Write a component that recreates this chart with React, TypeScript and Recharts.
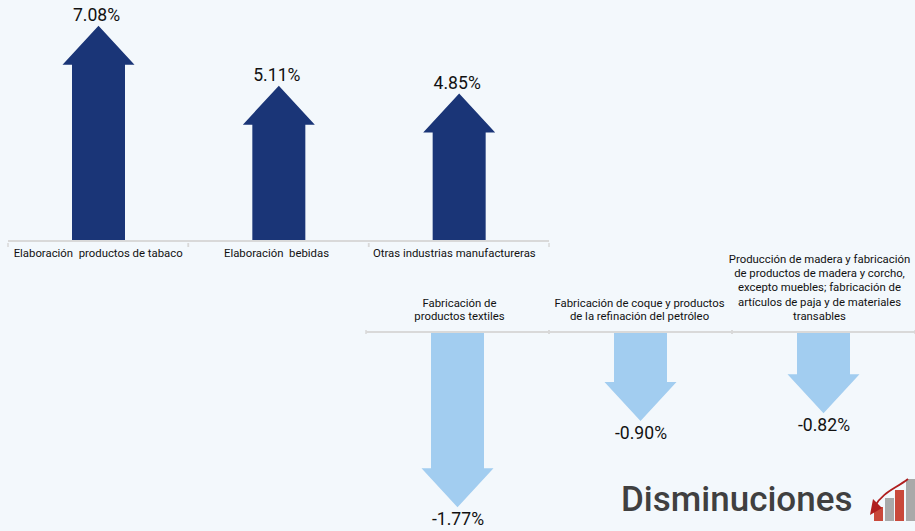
import React from 'react';
import { BarChart, Bar, XAxis, YAxis, LabelList } from 'recharts';

const upCategories = [
  ['Elaboración  productos de tabaco'],
  ['Elaboración  bebidas'],
  ['Otras industrias manufactureras'],
];
const upValues = [7.08, 5.11, 4.85];

const downCategories = [
  ['Fabricación de', 'productos textiles'],
  ['Fabricación de coque y productos', 'de la refinación del petróleo'],
  [
    'Producción de madera y fabricación',
    'de productos de madera y corcho,',
    'excepto muebles; fabricación de',
    'artículos de paja y de materiales',
    'transables',
  ],
];
const downValues = [-1.77, -0.9, -0.82];

const FONT = 'Roboto, sans-serif';
const AXIS_COLOR = '#d9d9d9';
const UP_COLOR = '#1a3577';
const DOWN_COLOR = '#a2cdf0';
const BODY_WIDTH = 53;
const HEAD_EXTRA = 9.5;
const HEAD_HEIGHT = 39;

const upData = upValues.map((value, i) => ({ name: upCategories[i].join(' '), value }));
const downData = downValues.map((value, i) => ({ name: downCategories[i].join(' '), value }));

// bar drawn as an arrow, tip on the value
function Arrow({ x, y, width, height, value, fill }: any) {
  const v = Array.isArray(value) ? value[1] : value;
  const top = Math.min(y, y + height);
  const bottom = Math.max(y, y + height);
  const left = x;
  const right = x + width;
  const mid = x + width / 2;
  const pts =
    v >= 0
      ? [
          [mid, top],
          [right + HEAD_EXTRA, top + HEAD_HEIGHT],
          [right, top + HEAD_HEIGHT],
          [right, bottom],
          [left, bottom],
          [left, top + HEAD_HEIGHT],
          [left - HEAD_EXTRA, top + HEAD_HEIGHT],
        ]
      : [
          [mid, bottom],
          [right + HEAD_EXTRA, bottom - HEAD_HEIGHT],
          [right, bottom - HEAD_HEIGHT],
          [right, top],
          [left, top],
          [left, bottom - HEAD_HEIGHT],
          [left - HEAD_EXTRA, bottom - HEAD_HEIGHT],
        ];
  return <polygon points={pts.map((p) => p.join(',')).join(' ')} fill={fill} />;
}

function ValueLabel({ x, y, width, height, value }: any) {
  const tipUp = value >= 0;
  const tip = tipUp ? Math.min(y, y + height) : Math.max(y, y + height);
  return (
    <text
      x={x + width / 2 + (tipUp ? -2 : 0.5)}
      y={tipUp ? tip - 5 : tip + 18}
      textAnchor="middle"
      fontFamily={FONT}
      fontSize={17.6}
      fill="#111"
    >
      {value.toFixed(2)}%
    </text>
  );
}

function CategoryTick({ x, y, payload, index, lines, band, nudge, above }: any) {
  const rows: string[] = lines[index ?? payload.index] ?? [];
  const step = rows.length > 2 ? 14.3 : 13.5;
  const edge = band / 2;
  return (
    <g>
      <line x1={x - edge} x2={x - edge} y1={y} y2={y + 4} stroke={AXIS_COLOR} strokeWidth={1.5} />
      <line x1={x + edge} x2={x + edge} y1={y} y2={y + 4} stroke={AXIS_COLOR} strokeWidth={1.5} />
      {rows.map((row, i) => (
        <text
          key={i}
          x={x + (nudge[index ?? payload.index] ?? 0)}
          y={above ? y - 10 - (rows.length - 1 - i) * step : y + 14}
          textAnchor="middle"
          fontFamily={FONT}
          fontSize={11.35}
          fill="#111"
          style={{ whiteSpace: 'pre' }}
        >
          {row}
        </text>
      ))}
    </g>
  );
}

function UpChart() {
  return (
    <BarChart width={915} height={270} data={upData} margin={{ top: 10, right: 366, bottom: 0, left: 8 }} barSize={BODY_WIDTH}>
      <XAxis
        dataKey="name"
        interval={0}
        height={29}
        axisLine={{ stroke: AXIS_COLOR, strokeWidth: 2 }}
        tickLine={false}
        tickSize={0}
        tick={<CategoryTick lines={upCategories} band={180.33} nudge={[0, -2, -4.5]} />}
      />
      <YAxis hide domain={[0, 7.6]} />
      <Bar dataKey="value" fill={UP_COLOR} isAnimationActive={false} shape={<Arrow />}>
        <LabelList dataKey="value" content={<ValueLabel />} />
      </Bar>
    </BarChart>
  );
}

function DownChart() {
  return (
    <BarChart width={915} height={291} data={downData} margin={{ top: 0, right: 0, bottom: 1, left: 366 }} barSize={BODY_WIDTH}>
      <XAxis
        dataKey="name"
        orientation="top"
        interval={0}
        height={92}
        axisLine={{ stroke: AXIS_COLOR, strokeWidth: 2 }}
        tickLine={false}
        tickSize={0}
        tick={<CategoryTick lines={downCategories} band={183} nudge={[2, -1, -4]} above />}
      />
      <YAxis hide domain={[-2, 0]} />
      <Bar dataKey="value" fill={DOWN_COLOR} isAnimationActive={false} shape={<Arrow />}>
        <LabelList dataKey="value" content={<ValueLabel />} />
      </Bar>
    </BarChart>
  );
}

export default function App() {
  return (
    <div style={{ position: 'fixed', left: 0, top: 0, width: 915, height: 531, background: '#f3f8fc', overflow: 'hidden' }}>
      <div style={{ position: 'absolute', left: 0, top: 0 }}>
        <UpChart />
      </div>
      <div style={{ position: 'absolute', left: 0, top: 240 }}>
        <DownChart />
      </div>
      <div
        style={{
          position: 'absolute',
          left: 621,
          top: 479,
          fontFamily: FONT,
          fontWeight: 500,
          fontSize: 35,
          lineHeight: '42px',
          color: '#404040',
        }}
      >
        Disminuciones
      </div>
      <svg style={{ position: 'absolute', left: 865, top: 475 }} width={50} height={50}>
        <rect x={9} y={32} width={9} height={14} fill="#c9493b" />
        <rect x={20} y={23} width={9} height={23} fill="#a9a9a9" />
        <rect x={30} y={15} width={9} height={31} fill="#c9493b" />
        <rect x={41} y={4} width={9} height={42} fill="#a9a9a9" />
        <path d="M43 4 C30 14 18 17 10 31" fill="none" stroke="#b01e1e" strokeWidth={1.8} />
        <polygon points="5,40 8,24 17,33" fill="#b01e1e" />
      </svg>
    </div>
  );
}
